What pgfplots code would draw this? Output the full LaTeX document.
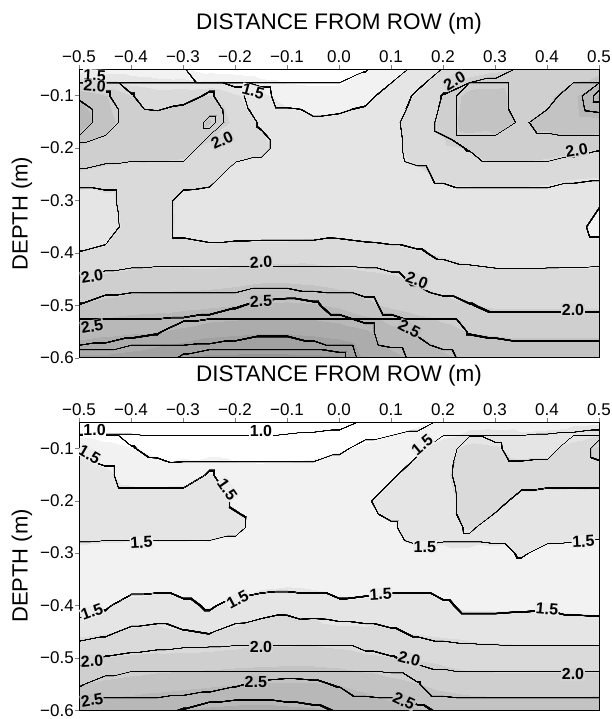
\documentclass[border=0pt]{standalone}
\usepackage{fontspec}
\setmainfont{Liberation Sans}
\usepackage{pgfplots}
\usepackage{pgfplotstable}
\pgfplotsset{compat=1.18}

\pgfplotstableread{
x y z
-0.50 -0.05 1.35
-0.45 -0.05 1.35
-0.40 -0.05 1.33
-0.35 -0.05 1.30
-0.30 -0.05 1.26
-0.25 -0.05 1.12
-0.20 -0.05 1.10
-0.15 -0.05 1.08
-0.10 -0.05 1.05
-0.05 -0.05 1.03
0.00 -0.05 1.05
0.05 -0.05 1.24
0.10 -0.05 1.42
0.15 -0.05 1.55
0.20 -0.05 1.76
0.25 -0.05 1.85
0.30 -0.05 1.95
0.35 -0.05 2.02
0.40 -0.05 2.05
0.45 -0.05 2.08
0.50 -0.05 2.10
-0.50 -0.10 2.48
-0.45 -0.10 2.27
-0.40 -0.10 2.01
-0.35 -0.10 1.90
-0.30 -0.10 1.95
-0.25 -0.10 2.02
-0.20 -0.10 1.80
-0.15 -0.10 1.55
-0.10 -0.10 1.42
-0.05 -0.10 1.38
0.00 -0.10 1.38
0.05 -0.10 1.45
0.10 -0.10 1.58
0.15 -0.10 1.78
0.20 -0.10 2.01
0.25 -0.10 2.36
0.30 -0.10 2.36
0.35 -0.10 2.12
0.40 -0.10 2.18
0.45 -0.10 2.45
0.50 -0.10 2.78
-0.50 -0.15 2.65
-0.45 -0.15 2.35
-0.40 -0.15 2.10
-0.35 -0.15 2.08
-0.30 -0.15 2.12
-0.25 -0.15 2.28
-0.20 -0.15 1.92
-0.15 -0.15 1.73
-0.10 -0.15 1.60
-0.05 -0.15 1.53
0.00 -0.15 1.55
0.05 -0.15 1.58
0.10 -0.15 1.70
0.15 -0.15 1.85
0.20 -0.15 2.05
0.25 -0.15 2.42
0.30 -0.15 2.36
0.35 -0.15 2.22
0.40 -0.15 2.32
0.45 -0.15 2.42
0.50 -0.15 2.44
-0.50 -0.20 2.22
-0.45 -0.20 2.15
-0.40 -0.20 2.10
-0.35 -0.20 2.12
-0.30 -0.20 2.10
-0.25 -0.20 1.90
-0.20 -0.20 1.85
-0.15 -0.20 1.80
-0.10 -0.20 1.64
-0.05 -0.20 1.62
0.00 -0.20 1.60
0.05 -0.20 1.60
0.10 -0.20 1.68
0.15 -0.20 1.85
0.20 -0.20 1.95
0.25 -0.20 2.01
0.30 -0.20 2.12
0.35 -0.20 2.12
0.40 -0.20 2.10
0.45 -0.20 2.05
0.50 -0.20 2.01
-0.50 -0.25 1.97
-0.45 -0.25 1.93
-0.40 -0.25 1.90
-0.35 -0.25 1.88
-0.30 -0.25 1.85
-0.25 -0.25 1.84
-0.20 -0.25 1.66
-0.15 -0.25 1.65
-0.10 -0.25 1.60
-0.05 -0.25 1.58
0.00 -0.25 1.57
0.05 -0.25 1.57
0.10 -0.25 1.60
0.15 -0.25 1.70
0.20 -0.25 1.80
0.25 -0.25 1.85
0.30 -0.25 1.88
0.35 -0.25 1.88
0.40 -0.25 1.85
0.45 -0.25 1.80
0.50 -0.25 1.78
-0.50 -0.30 1.60
-0.45 -0.30 1.68
-0.40 -0.30 1.86
-0.35 -0.30 1.90
-0.30 -0.30 1.68
-0.25 -0.30 1.65
-0.20 -0.30 1.60
-0.15 -0.30 1.57
-0.10 -0.30 1.55
-0.05 -0.30 1.55
0.00 -0.30 1.55
0.05 -0.30 1.56
0.10 -0.30 1.58
0.15 -0.30 1.60
0.20 -0.30 1.62
0.25 -0.30 1.63
0.30 -0.30 1.63
0.35 -0.30 1.62
0.40 -0.30 1.60
0.45 -0.30 1.55
0.50 -0.30 1.52
-0.50 -0.35 1.52
-0.45 -0.35 1.62
-0.40 -0.35 1.84
-0.35 -0.35 1.88
-0.30 -0.35 1.68
-0.25 -0.35 1.62
-0.20 -0.35 1.65
-0.15 -0.35 1.63
-0.10 -0.35 1.62
-0.05 -0.35 1.65
0.00 -0.35 1.68
0.05 -0.35 1.66
0.10 -0.35 1.65
0.15 -0.35 1.60
0.20 -0.35 1.57
0.25 -0.35 1.55
0.30 -0.35 1.53
0.35 -0.35 1.52
0.40 -0.35 1.52
0.45 -0.35 1.56
0.50 -0.35 1.44
-0.50 -0.40 1.76
-0.45 -0.40 1.80
-0.40 -0.40 1.86
-0.35 -0.40 1.88
-0.30 -0.40 1.86
-0.25 -0.40 1.82
-0.20 -0.40 1.84
-0.15 -0.40 1.85
-0.10 -0.40 1.86
-0.05 -0.40 1.88
0.00 -0.40 1.84
0.05 -0.40 1.82
0.10 -0.40 1.80
0.15 -0.40 1.77
0.20 -0.40 1.72
0.25 -0.40 1.68
0.30 -0.40 1.66
0.35 -0.40 1.65
0.40 -0.40 1.64
0.45 -0.40 1.62
0.50 -0.40 1.62
-0.50 -0.45 2.01
-0.45 -0.45 2.05
-0.40 -0.45 2.08
-0.35 -0.45 2.10
-0.30 -0.45 2.12
-0.25 -0.45 2.12
-0.20 -0.45 2.15
-0.15 -0.45 2.20
-0.10 -0.45 2.20
-0.05 -0.45 2.17
0.00 -0.45 2.12
0.05 -0.45 2.08
0.10 -0.45 2.04
0.15 -0.45 1.97
0.20 -0.45 1.90
0.25 -0.45 1.84
0.30 -0.45 1.82
0.35 -0.45 1.82
0.40 -0.45 1.83
0.45 -0.45 1.84
0.50 -0.45 1.85
-0.50 -0.50 2.26
-0.45 -0.50 2.32
-0.40 -0.50 2.38
-0.35 -0.50 2.40
-0.30 -0.50 2.42
-0.25 -0.50 2.45
-0.20 -0.50 2.49
-0.15 -0.50 2.53
-0.10 -0.50 2.54
-0.05 -0.50 2.52
0.00 -0.50 2.45
0.05 -0.50 2.30
0.10 -0.50 2.20
0.15 -0.50 2.12
0.20 -0.50 2.06
0.25 -0.50 2.01
0.30 -0.50 1.97
0.35 -0.50 1.97
0.40 -0.50 1.97
0.45 -0.50 1.97
0.50 -0.50 1.97
-0.50 -0.55 2.62
-0.45 -0.55 2.68
-0.40 -0.55 2.72
-0.35 -0.55 2.74
-0.30 -0.55 2.82
-0.25 -0.55 2.92
-0.20 -0.55 2.95
-0.15 -0.55 2.98
-0.10 -0.55 2.98
-0.05 -0.55 2.95
0.00 -0.55 2.90
0.05 -0.55 2.80
0.10 -0.55 2.60
0.15 -0.55 2.48
0.20 -0.55 2.35
0.25 -0.55 2.24
0.30 -0.55 2.22
0.35 -0.55 2.20
0.40 -0.55 2.20
0.45 -0.55 2.20
0.50 -0.55 2.20
-0.50 -0.60 3.05
-0.45 -0.60 3.05
-0.40 -0.60 3.10
-0.35 -0.60 3.20
-0.30 -0.60 3.27
-0.25 -0.60 3.30
-0.20 -0.60 3.30
-0.15 -0.60 3.30
-0.10 -0.60 3.30
-0.05 -0.60 3.30
0.00 -0.60 3.28
0.05 -0.60 2.95
0.10 -0.60 2.82
0.15 -0.60 2.70
0.20 -0.60 2.55
0.25 -0.60 2.45
0.30 -0.60 2.42
0.35 -0.60 2.42
0.40 -0.60 2.42
0.45 -0.60 2.44
0.50 -0.60 2.45
}\toptab

\pgfplotstableread{
x y z
-0.50 -0.05 0.92
-0.45 -0.05 0.92
-0.40 -0.05 0.92
-0.35 -0.05 0.90
-0.30 -0.05 0.88
-0.25 -0.05 0.87
-0.20 -0.05 0.88
-0.15 -0.05 0.90
-0.10 -0.05 0.92
-0.05 -0.05 0.94
0.00 -0.05 0.96
0.05 -0.05 1.02
0.10 -0.05 1.10
0.15 -0.05 1.20
0.20 -0.05 1.28
0.25 -0.05 1.35
0.30 -0.05 1.38
0.35 -0.05 1.40
0.40 -0.05 1.42
0.45 -0.05 1.44
0.50 -0.05 1.46
-0.50 -0.10 1.48
-0.45 -0.10 1.35
-0.40 -0.10 1.26
-0.35 -0.10 1.20
-0.30 -0.10 1.15
-0.25 -0.10 1.12
-0.20 -0.10 1.10
-0.15 -0.10 1.08
-0.10 -0.10 1.10
-0.05 -0.10 1.15
0.00 -0.10 1.22
0.05 -0.10 1.30
0.10 -0.10 1.38
0.15 -0.10 1.46
0.20 -0.10 1.62
0.25 -0.10 1.84
0.30 -0.10 1.78
0.35 -0.10 1.66
0.40 -0.10 1.68
0.45 -0.10 1.86
0.50 -0.10 2.05
-0.50 -0.15 1.62
-0.45 -0.15 1.55
-0.40 -0.15 1.40
-0.35 -0.15 1.34
-0.30 -0.15 1.40
-0.25 -0.15 1.52
-0.20 -0.15 1.38
-0.15 -0.15 1.37
-0.10 -0.15 1.36
-0.05 -0.15 1.38
0.00 -0.15 1.40
0.05 -0.15 1.40
0.10 -0.15 1.47
0.15 -0.15 1.62
0.20 -0.15 1.70
0.25 -0.15 1.90
0.30 -0.15 1.90
0.35 -0.15 1.88
0.40 -0.15 1.88
0.45 -0.15 1.90
0.50 -0.15 1.94
-0.50 -0.20 1.66
-0.45 -0.20 1.66
-0.40 -0.20 1.64
-0.35 -0.20 1.64
-0.30 -0.20 1.64
-0.25 -0.20 1.64
-0.20 -0.20 1.47
-0.15 -0.20 1.42
-0.10 -0.20 1.40
-0.05 -0.20 1.42
0.00 -0.20 1.38
0.05 -0.20 1.47
0.10 -0.20 1.60
0.15 -0.20 1.64
0.20 -0.20 1.66
0.25 -0.20 1.84
0.30 -0.20 1.82
0.35 -0.20 1.68
0.40 -0.20 1.64
0.45 -0.20 1.62
0.50 -0.20 1.60
-0.50 -0.25 1.66
-0.45 -0.25 1.65
-0.40 -0.25 1.65
-0.35 -0.25 1.65
-0.30 -0.25 1.65
-0.25 -0.25 1.62
-0.20 -0.25 1.55
-0.15 -0.25 1.42
-0.10 -0.25 1.42
-0.05 -0.25 1.42
0.00 -0.25 1.43
0.05 -0.25 1.40
0.10 -0.25 1.47
0.15 -0.25 1.62
0.20 -0.25 1.66
0.25 -0.25 1.78
0.30 -0.25 1.66
0.35 -0.25 1.62
0.40 -0.25 1.62
0.45 -0.25 1.60
0.50 -0.25 1.58
-0.50 -0.30 1.42
-0.45 -0.30 1.40
-0.40 -0.30 1.38
-0.35 -0.30 1.38
-0.30 -0.30 1.38
-0.25 -0.30 1.40
-0.20 -0.30 1.38
-0.15 -0.30 1.38
-0.10 -0.30 1.36
-0.05 -0.30 1.36
0.00 -0.30 1.37
0.05 -0.30 1.38
0.10 -0.30 1.40
0.15 -0.30 1.45
0.20 -0.30 1.42
0.25 -0.30 1.42
0.30 -0.30 1.44
0.35 -0.30 1.52
0.40 -0.30 1.44
0.45 -0.30 1.42
0.50 -0.30 1.40
-0.50 -0.35 1.38
-0.45 -0.35 1.38
-0.40 -0.35 1.36
-0.35 -0.35 1.36
-0.30 -0.35 1.36
-0.25 -0.35 1.38
-0.20 -0.35 1.36
-0.15 -0.35 1.40
-0.10 -0.35 1.42
-0.05 -0.35 1.40
0.00 -0.35 1.36
0.05 -0.35 1.36
0.10 -0.35 1.38
0.15 -0.35 1.38
0.20 -0.35 1.36
0.25 -0.35 1.36
0.30 -0.35 1.36
0.35 -0.35 1.38
0.40 -0.35 1.38
0.45 -0.35 1.36
0.50 -0.35 1.36
-0.50 -0.40 1.42
-0.45 -0.40 1.48
-0.40 -0.40 1.58
-0.35 -0.40 1.62
-0.30 -0.40 1.54
-0.25 -0.40 1.48
-0.20 -0.40 1.56
-0.15 -0.40 1.66
-0.10 -0.40 1.70
-0.05 -0.40 1.66
0.00 -0.40 1.54
0.05 -0.40 1.56
0.10 -0.40 1.62
0.15 -0.40 1.62
0.20 -0.40 1.53
0.25 -0.40 1.46
0.30 -0.40 1.46
0.35 -0.40 1.47
0.40 -0.40 1.48
0.45 -0.40 1.45
0.50 -0.40 1.44
-0.50 -0.45 1.70
-0.45 -0.45 1.73
-0.40 -0.45 1.78
-0.35 -0.45 1.80
-0.30 -0.45 1.76
-0.25 -0.45 1.745
-0.20 -0.45 1.80
-0.15 -0.45 1.86
-0.10 -0.45 1.84
-0.05 -0.45 1.86
0.00 -0.45 1.82
0.05 -0.45 1.80
0.10 -0.45 1.77
0.15 -0.45 1.73
0.20 -0.45 1.70
0.25 -0.45 1.68
0.30 -0.45 1.66
0.35 -0.45 1.64
0.40 -0.45 1.64
0.45 -0.45 1.63
0.50 -0.45 1.62
-0.50 -0.50 1.96
-0.45 -0.50 2.01
-0.40 -0.50 2.03
-0.35 -0.50 2.05
-0.30 -0.50 2.07
-0.25 -0.50 2.08
-0.20 -0.50 2.10
-0.15 -0.50 2.12
-0.10 -0.50 2.13
-0.05 -0.50 2.13
0.00 -0.50 2.10
0.05 -0.50 2.04
0.10 -0.50 2.01
0.15 -0.50 1.97
0.20 -0.50 1.93
0.25 -0.50 1.88
0.30 -0.50 1.88
0.35 -0.50 1.87
0.40 -0.50 1.87
0.45 -0.50 1.87
0.50 -0.50 1.88
-0.50 -0.55 2.24
-0.45 -0.55 2.30
-0.40 -0.55 2.35
-0.35 -0.55 2.40
-0.30 -0.55 2.43
-0.25 -0.55 2.46
-0.20 -0.55 2.49
-0.15 -0.55 2.52
-0.10 -0.55 2.53
-0.05 -0.55 2.52
0.00 -0.55 2.49
0.05 -0.55 2.42
0.10 -0.55 2.33
0.15 -0.55 2.26
0.20 -0.55 2.17
0.25 -0.55 2.12
0.30 -0.55 2.10
0.35 -0.55 2.10
0.40 -0.55 2.10
0.45 -0.55 2.10
0.50 -0.55 2.10
-0.50 -0.60 2.65
-0.45 -0.60 2.68
-0.40 -0.60 2.70
-0.35 -0.60 2.72
-0.30 -0.60 2.76
-0.25 -0.60 2.80
-0.20 -0.60 2.82
-0.15 -0.60 2.82
-0.10 -0.60 2.80
-0.05 -0.60 2.78
0.00 -0.60 2.74
0.05 -0.60 2.68
0.10 -0.60 2.60
0.15 -0.60 2.53
0.20 -0.60 2.48
0.25 -0.60 2.44
0.30 -0.60 2.42
0.35 -0.60 2.42
0.40 -0.60 2.42
0.45 -0.60 2.43
0.50 -0.60 2.45
}\bottab

\pgfplotsset{colormap={fillmap}{
gray(750pt)=(1); gray(1249pt)=(1);
gray(1250pt)=(0.95); gray(1499pt)=(0.95);
gray(1500pt)=(0.90); gray(1749pt)=(0.90);
gray(1750pt)=(0.855); gray(1999pt)=(0.855);
gray(2000pt)=(0.81); gray(2249pt)=(0.81);
gray(2250pt)=(0.765); gray(2499pt)=(0.765);
gray(2500pt)=(0.72); gray(2749pt)=(0.72);
gray(2750pt)=(0.675); gray(2999pt)=(0.675);
gray(3000pt)=(0.63); gray(3249pt)=(0.63);
gray(3250pt)=(0.585); gray(3500pt)=(0.585)
}}
% one contour level: meta range L-0.1 .. L+0.1 mapped onto 0pt .. 200pt
\pgfplotsset{colormap={bandmap}{
gray(0pt)=(1); gray(96pt)=(1); gray(98pt)=(0); gray(102pt)=(0); gray(104pt)=(1); gray(200pt)=(1)
}}

\definecolor{lab10}{gray}{1}
\definecolor{lab15}{gray}{0.925}
\definecolor{lab20}{gray}{0.833}
\definecolor{lab25}{gray}{0.743}

\pgfplotsset{
  contouraxis/.style={
    scale only axis, width=520pt, height=288.5pt, anchor=north west,
    xmin=-0.5, xmax=0.5, ymin=-0.6, ymax=-0.05,
    xtick={-0.5,-0.4,-0.3,-0.2,-0.1,0,0.1,0.2,0.3,0.4,0.5},
    xticklabels={−0.5,−0.4,−0.3,−0.2,−0.1,0.0,0.1,0.2,0.3,0.4,0.5},
    ytick={-0.6,-0.5,-0.4,-0.3,-0.2,-0.1},
    yticklabels={−0.6,−0.5,−0.4,−0.3,−0.2,−0.1},
    xtick pos=upper, xticklabel pos=upper, ytick pos=lower,
    tick align=outside, major tick length=4pt,
    tick label style={font=\fontsize{17}{17}\selectfont},
    xticklabel style={inner sep=2pt},
    yticklabel style={inner sep=1pt},
    axis on top,
    axis line style={line width=0.8pt},
  },
  surfstyle/.style={surf, shader=interp, mesh/cols=21, mesh/rows=12, point meta=explicit},
}
\tikzset{lab/.style={font=\fontsize{16}{16}\selectfont\bfseries, inner sep=0.6pt}}

% contour lines of table #1 in the panel whose top edge is at #2, for the levels #3
\newcommand{\contourlines}[3]{%
\foreach \lev in {#3}{%
  \pgfmathsetmacro\mmin{\lev-0.1}%
  \pgfmathsetmacro\mmax{\lev+0.1}%
  \foreach \dx/\dy in {-0.2/-0.2,-0.2/0.2,0.2/-0.2,0.2/0.2}{%
    \begin{scope}[blend mode=multiply, xshift=\dx pt, yshift=\dy pt]
    \begin{axis}[contouraxis, hide axis, at={(79pt,#2)}, colormap name=bandmap,
                 point meta min=\mmin, point meta max=\mmax]
    \addplot[surfstyle] table[x=x, y=y, meta=z] {#1};
    \end{axis}
    \end{scope}
  }%
}%
}

\begin{document}
\begin{tikzpicture}
\path[use as bounding box] (0,0) rectangle (611pt,-719pt);

\node[font=\fontsize{22.5}{22.5}\selectfont, anchor=base] at (339pt,-30pt) {DISTANCE FROM ROW (m)};
\node[font=\fontsize{22}{22}\selectfont, rotate=90] at (22pt,-213.5pt) {DEPTH (m)};

% ---------- top panel ----------
\begin{axis}[contouraxis, at={(79pt,-69.3pt)}, colormap name=fillmap, point meta min=0.75, point meta max=3.5]
\addplot[surfstyle] table[x=x, y=y, meta=z] {\toptab};
\end{axis}
\contourlines{\toptab}{-69.3pt}{1.25,1.5,1.75,2.0,2.25,2.5,2.75,3.0,3.25}
\begin{axis}[contouraxis, hide axis, at={(79pt,-69.3pt)}]
\node[lab, fill=lab15, rotate=-3] at (axis cs:-0.47,-0.062) {1.5};
\node[lab, fill=lab20, rotate=-5] at (axis cs:-0.47,-0.082) {2.0};
\node[lab, fill=lab15, rotate=-15] at (axis cs:-0.165,-0.092) {1.5};
\node[lab, fill=lab20, rotate=25] at (axis cs:-0.225,-0.185) {2.0};
\node[lab, fill=lab20, rotate=30] at (axis cs:0.222,-0.072) {2.0};
\node[lab, fill=lab20, rotate=10] at (axis cs:0.457,-0.205) {2.0};
\node[lab, fill=lab20, rotate=10] at (axis cs:-0.475,-0.445) {2.0};
\node[lab, fill=lab20, rotate=3] at (axis cs:-0.15,-0.418) {2.0};
\node[lab, fill=lab20, rotate=-20] at (axis cs:0.15,-0.452) {2.0};
\node[lab, fill=lab20, rotate=0] at (axis cs:0.45,-0.508) {2.0};
\node[lab, fill=lab25, rotate=10] at (axis cs:-0.475,-0.54) {2.5};
\node[lab, fill=lab25, rotate=2] at (axis cs:-0.15,-0.492) {2.5};
\node[lab, fill=lab25, rotate=-28] at (axis cs:0.135,-0.545) {2.5};
\end{axis}

\node[font=\fontsize{22.5}{22.5}\selectfont, anchor=base] at (339pt,-381pt) {DISTANCE FROM ROW (m)};
\node[font=\fontsize{22}{22}\selectfont, rotate=90] at (22pt,-566pt) {DEPTH (m)};

% ---------- bottom panel ----------
\begin{axis}[contouraxis, at={(79pt,-422pt)}, colormap name=fillmap, point meta min=0.75, point meta max=3.5]
\addplot[surfstyle] table[x=x, y=y, meta=z] {\bottab};
\end{axis}
\contourlines{\bottab}{-422pt}{1.0,1.25,1.5,1.75,2.0,2.25,2.5,2.75}
\begin{axis}[contouraxis, hide axis, at={(79pt,-422pt)}]
\node[lab, fill=lab10] at (axis cs:-0.47,-0.065) {1.0};
\node[lab, fill=lab10] at (axis cs:-0.15,-0.068) {1.0};
\node[lab, fill=lab15, rotate=-30] at (axis cs:-0.48,-0.112) {1.5};
\node[lab, fill=lab15, rotate=-55] at (axis cs:-0.215,-0.178) {1.5};
\node[lab, fill=lab15, rotate=3] at (axis cs:-0.38,-0.28) {1.5};
\node[lab, fill=lab15, rotate=40] at (axis cs:0.16,-0.094) {1.5};
\node[lab, fill=lab15] at (axis cs:0.165,-0.288) {1.5};
\node[lab, fill=lab15, rotate=3] at (axis cs:0.47,-0.278) {1.5};
\node[lab, fill=lab15, rotate=20] at (axis cs:-0.475,-0.412) {1.5};
\node[lab, fill=lab15, rotate=28] at (axis cs:-0.195,-0.388) {1.5};
\node[lab, fill=lab15, rotate=3] at (axis cs:0.08,-0.378) {1.5};
\node[lab, fill=lab15, rotate=-5] at (axis cs:0.4,-0.407) {1.5};
\node[lab, fill=lab20, rotate=3] at (axis cs:-0.475,-0.506) {2.0};
\node[lab, fill=lab20] at (axis cs:-0.15,-0.479) {2.0};
\node[lab, fill=lab20, rotate=-15] at (axis cs:0.135,-0.502) {2.0};
\node[lab, fill=lab20] at (axis cs:0.45,-0.531) {2.0};
\node[lab, fill=lab25] at (axis cs:-0.16,-0.546) {2.5};
\node[lab, fill=lab25, rotate=10] at (axis cs:-0.475,-0.58) {2.5};
\node[lab, fill=lab25, rotate=-25] at (axis cs:0.125,-0.582) {2.5};
\end{axis}
\end{tikzpicture}
\end{document}
